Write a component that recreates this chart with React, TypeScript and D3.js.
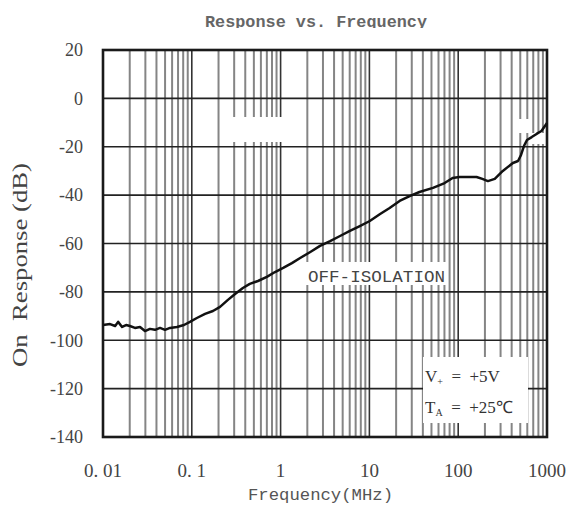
import React, { useEffect, useRef } from 'react';
import * as d3 from 'd3';

// Off-isolation response
const freqMHz = [
  0.01, 0.012, 0.0137, 0.0148, 0.0164, 0.0182, 0.0201, 0.0229, 0.0261, 0.0297,
  0.0338, 0.0385, 0.0439, 0.0499, 0.0568, 0.068, 0.0816, 0.0953, 0.114, 0.141,
  0.173, 0.208, 0.255, 0.307, 0.376, 0.45, 0.556, 0.7, 0.865, 1.07,
  1.34, 1.66, 2.16, 2.78, 3.61, 4.67, 6.03, 7.8, 10.1, 13.2,
  16.9, 21.9, 28.4, 36.6, 52, 70.3, 86.5, 103, 134, 161,
  187, 216, 258, 318, 413, 472, 510, 550, 595, 673,
  763, 866, 1000,
];
const responseDb = [
  -93.7, -93.3, -94.1, -92.4, -94.5, -93.7, -94.1, -94.9, -94.5, -96.2,
  -95.3, -95.7, -94.9, -95.7, -94.9, -94.5, -93.7, -92.4, -90.8, -89.1,
  -87.9, -86.2, -83.3, -80.9, -78.4, -76.7, -75.5, -73.8, -71.8, -70.1,
  -68.1, -66.0, -63.5, -61.0, -59.0, -56.9, -54.8, -52.8, -50.7, -47.8,
  -45.3, -42.4, -40.4, -38.7, -37.0, -35.0, -32.9, -32.5, -32.5, -32.5,
  -33.3, -34.2, -33.3, -30.0, -26.7, -25.9, -23.4, -19.7, -17.2, -16.0,
  -14.7, -13.5, -10.2,
];

const yTicks = [20, 0, -20, -40, -60, -80, -100, -120, -140];
const xTicks = [0.01, 0.1, 1, 10, 100, 1000];
const xTickLabels = ['0. 01', '0. 1', '1', '10', '100', '1000'];

export default function App() {
  const svgRef = useRef<SVGSVGElement>(null);

  useEffect(() => {
    document.body.style.margin = '0';
    if (!svgRef.current) return;
    draw();
  }, []);

  const draw = () => {
    const svg = d3.select(svgRef.current);
    svg.selectAll('*').remove();

    const margin = { top: 50, right: 33, bottom: 74, left: 103 };
    const width = 580 - margin.left - margin.right;
    const height = 511 - margin.top - margin.bottom;

    svg.append('rect').attr('width', 580).attr('height', 511).attr('fill', '#fff');

    const g = svg.append('g').attr('transform', `translate(${margin.left},${margin.top})`);

    const x = d3.scaleLog().domain([0.01, 1000]).range([0, width]);
    const y = d3.scaleLinear().domain([-140, 20]).range([height, 0]);

    // minor vertical grid 2..9 per decade
    const minor: number[] = [];
    for (let e = -2; e < 3; e++) {
      for (let m = 2; m <= 9; m++) minor.push(m * Math.pow(10, e));
    }
    g.selectAll('.minor')
      .data(minor)
      .enter()
      .append('line')
      .attr('x1', (d) => x(d))
      .attr('x2', (d) => x(d))
      .attr('y1', 0)
      .attr('y2', height)
      .attr('stroke', '#858585')
      .attr('stroke-width', 2);

    g.selectAll('.major')
      .data(xTicks)
      .enter()
      .append('line')
      .attr('x1', (d) => x(d))
      .attr('x2', (d) => x(d))
      .attr('y1', 0)
      .attr('y2', height)
      .attr('stroke', '#333')
      .attr('stroke-width', 1.6);

    g.selectAll('.hgrid')
      .data(yTicks)
      .enter()
      .append('line')
      .attr('x1', 0)
      .attr('x2', width)
      .attr('y1', (d) => y(d))
      .attr('y2', (d) => y(d))
      .attr('stroke', '#222')
      .attr('stroke-width', 1.6);

    // erased patches in the scan
    const patches = [
      [225 - 103, 117 - 50, 77, 25],
      [518 - 103, 119 - 50, 12, 14],
      [531 - 103, 133 - 50, 14, 11],
      [305 - 103, 262 - 50, 142, 23],
      [423 - 103, 357 - 50, 105, 66],
    ];
    patches.forEach((p) => {
      g.append('rect')
        .attr('x', p[0])
        .attr('y', p[1])
        .attr('width', p[2])
        .attr('height', p[3])
        .attr('fill', '#fff');
    });

    // border
    g.append('rect')
      .attr('x', 0)
      .attr('y', 0)
      .attr('width', width)
      .attr('height', height)
      .attr('fill', 'none')
      .attr('stroke', '#1a1a1a')
      .attr('stroke-width', 2.6);

    const line = d3
      .line<number>()
      .x((d, i) => x(freqMHz[i]))
      .y((d) => y(d))
      .curve(d3.curveLinear);

    g.append('path')
      .datum(responseDb)
      .attr('fill', 'none')
      .attr('stroke', '#111')
      .attr('stroke-width', 2.5)
      .attr('stroke-linejoin', 'round')
      .attr('d', line);

    // y ticks
    g.selectAll('.ylab')
      .data(yTicks)
      .enter()
      .append('text')
      .attr('x', -20)
      .attr('y', (d) => y(d))
      .attr('dy', '0.35em')
      .attr('text-anchor', 'end')
      .style('font-family', 'Liberation Serif')
      .style('font-size', '18px')
      .style('fill', '#444')
      .text((d) => `${d}`);

    // x ticks
    g.selectAll('.xlab')
      .data(xTicks)
      .enter()
      .append('text')
      .attr('x', (d) => x(d))
      .attr('y', height + 40)
      .attr('text-anchor', 'middle')
      .style('font-family', 'Liberation Serif')
      .style('font-size', '19px')
      .style('fill', '#444')
      .text((d, i) => xTickLabels[i]);

    // annotations
    g.append('text')
      .attr('x', 308 - 103)
      .attr('y', 282 - 50)
      .attr('textLength', 137)
      .attr('lengthAdjust', 'spacingAndGlyphs')
      .style('font-family', 'Liberation Mono')
      .style('font-size', '17px')
      .style('fill', '#444')
      .text('OFF-ISOLATION');

    const v = g.append('text')
      .attr('x', 425 - 103)
      .attr('y', 382 - 50)
      .style('font-family', 'Liberation Serif')
      .style('font-size', '17px')
      .style('white-space', 'pre')
      .style('fill', '#333');
    v.append('tspan').text('V');
    v.append('tspan').attr('dy', 3).style('font-size', '10px').text('+');
    v.append('tspan').attr('dy', -3).text('  =  +5V');

    const t = g.append('text')
      .attr('x', 425 - 103)
      .attr('y', 413 - 50)
      .style('font-family', 'Liberation Serif')
      .style('font-size', '17px')
      .style('white-space', 'pre')
      .style('fill', '#333');
    t.append('tspan').text('T');
    t.append('tspan').attr('dy', 3).style('font-size', '10px').text('A');
    t.append('tspan').attr('dy', -3).text('  =  +25\u2103');

    // title
    svg.append('text')
      .attr('x', 205)
      .attr('y', 27)
      .attr('textLength', 222)
      .attr('lengthAdjust', 'spacingAndGlyphs')
      .style('font-family', 'Liberation Mono')
      .style('font-weight', 'bold')
      .style('font-size', '16px')
      .style('fill', '#666')
      .text('Response vs. Frequency');
    svg.append('rect').attr('x', 150).attr('y', 28).attr('width', 300).attr('height', 12).attr('fill', '#fff');

    // axis labels
    svg.append('text')
      .attr('x', 248)
      .attr('y', 500)
      .attr('textLength', 145)
      .attr('lengthAdjust', 'spacingAndGlyphs')
      .style('font-family', 'Liberation Mono')
      .style('font-size', '16px')
      .style('fill', '#555')
      .text('Frequency(MHz)');

    svg.append('text')
      .attr('transform', 'translate(27,265) rotate(-90)')
      .attr('text-anchor', 'middle')
      .attr('textLength', 204)
      .attr('lengthAdjust', 'spacingAndGlyphs')
      .style('font-family', 'Liberation Serif')
      .style('font-size', '20px')
      .style('white-space', 'pre')
      .style('fill', '#444')
      .text('On  Response (dB)');
  };

  return <svg ref={svgRef} width={580} height={511} style={{ display: 'block' }}></svg>;
}
